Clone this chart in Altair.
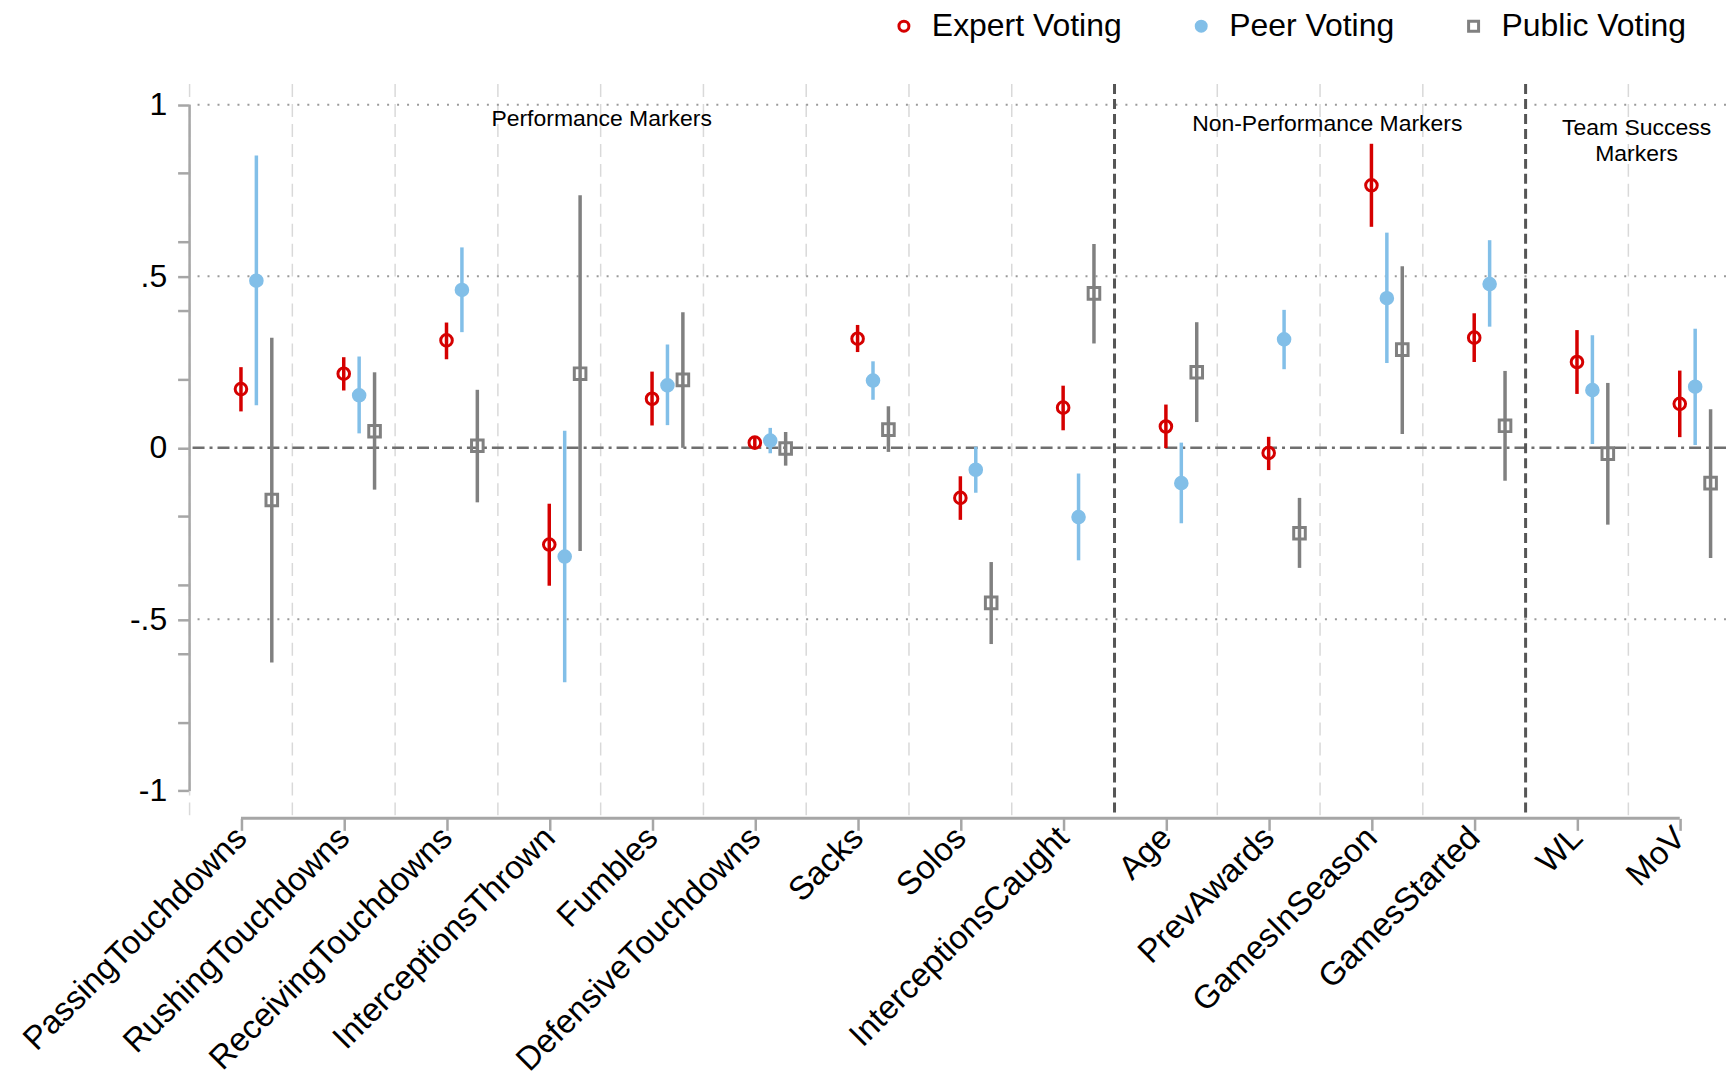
import json
import altair as alt
import pandas as pd

# ---------------- data ----------------
CATEGORIES = [
    "PassingTouchdowns", "RushingTouchdowns", "ReceivingTouchdowns",
    "InterceptionsThrown", "Fumbles", "DefensiveTouchdowns", "Sacks", "Solos",
    "InterceptionsCaught", "Age", "PrevAwards", "GamesInSeason",
    "GamesStarted", "WL", "MoV",
]
SERIES = ["Expert Voting", "Peer Voting", "Public Voting"]

EXPERT_EST = [0.171, 0.216, 0.313, -0.282, 0.143, 0.015, 0.318, -0.146, 0.117, 0.062, -0.015, 0.765, 0.321, 0.250, 0.128]
EXPERT_LO = [0.106, 0.167, 0.258, -0.402, 0.065, 0.000, 0.279, -0.210, 0.051, -0.001, -0.065, 0.644, 0.250, 0.157, 0.031]
EXPERT_HI = [0.235, 0.264, 0.365, -0.163, 0.222, 0.030, 0.358, -0.083, 0.181, 0.126, 0.032, 0.886, 0.392, 0.343, 0.225]

PEER_EST = [0.487, 0.153, 0.460, -0.317, 0.182, 0.021, 0.196, -0.064, -0.202, -0.103, 0.316, 0.436, 0.477, 0.168, 0.178]
PEER_LO = [0.124, 0.042, 0.337, -0.683, 0.066, -0.016, 0.140, -0.131, -0.328, -0.220, 0.229, 0.247, 0.353, 0.011, 0.008]
PEER_HI = [0.852, 0.266, 0.584, 0.050, 0.301, 0.058, 0.252, 0.003, -0.075, 0.015, 0.402, 0.627, 0.605, 0.328, 0.347]

PUBLIC_EST = [-0.152, 0.048, 0.006, 0.216, 0.198, -0.002, 0.053, -0.452, 0.450, 0.220, -0.249, 0.286, 0.064, -0.017, -0.103]
PUBLIC_LO = [-0.626, -0.122, -0.159, -0.301, 0.000, -0.052, -0.012, -0.572, 0.304, 0.075, -0.350, 0.040, -0.096, -0.224, -0.321]
PUBLIC_HI = [0.321, 0.220, 0.169, 0.736, 0.395, 0.046, 0.121, -0.333, 0.594, 0.366, -0.146, 0.529, 0.224, 0.189, 0.112]

GROUP_LABELS = ["Performance Markers", "Non-Performance Markers", "Team Success", "Markers"]
GROUP_LABEL_X = [3.51, 10.57, 13.58, 13.58]
GROUP_LABEL_Y = [0.958, 0.945, 0.933, 0.855]
GROUP_BREAKS = [8.5, 12.5]

Y_TICKS = [1, 0.8, 0.6, 0.5, 0.4, 0.2, 0, -0.2, -0.4, -0.5, -0.6, -0.8, -1]
Y_LABEL_VALUES = [1, 0.5, 0, -0.5, -1]
Y_LABEL_TEXT = ["1", ".5", "0", "-.5", "-1"]
Y_GRID = [1, 0.5, -0.5]

# ---------------- styles ----------------
FONT = "Liberation Sans"
COLORS = ["#d50000", "#82bfe8", "#808080"]
FILLS = ["transparent", "#82bfe8", "transparent"]
SHAPES = ["circle", "circle", "square"]
OFFSETS = [0.0, 0.15, 0.30]
AXIS_GRAY = "#a6a6a6"

rows = []
for s, est, lo, hi, off, col in zip(
    SERIES,
    [EXPERT_EST, PEER_EST, PUBLIC_EST],
    [EXPERT_LO, PEER_LO, PUBLIC_LO],
    [EXPERT_HI, PEER_HI, PUBLIC_HI],
    OFFSETS,
    COLORS,
):
    for i, c in enumerate(CATEGORIES):
        rows.append(dict(category=c, series=s, xpos=i + off, est=est[i], lo=lo[i], hi=hi[i], col=col))
df = pd.DataFrame(rows)

n = len(CATEGORIES)
X_DOMAIN = [-0.5, n - 0.55]
Y_DOMAIN = [-1.08, 1.06]
XS = alt.Scale(domain=X_DOMAIN, nice=False, zero=False)
YS = alt.Scale(domain=Y_DOMAIN, nice=False, zero=False)

x_label_expr = json.dumps(CATEGORIES) + "[round(datum.value)]"
y_label_expr = (
    "indexof(" + json.dumps(Y_LABEL_VALUES) + ", datum.value) >= 0 ? "
    + json.dumps(Y_LABEL_TEXT) + "[indexof(" + json.dumps(Y_LABEL_VALUES) + ", datum.value)] : ''"
)

XA = alt.Axis(
    values=list(range(n)), labelExpr=x_label_expr, domain=False, grid=False,
    ticks=True, tickSize=12, tickWidth=2.5, tickColor=AXIS_GRAY,
    labelAngle=-45, labelAlign="right", labelBaseline="middle",
    labelFontSize=33, labelFont=FONT, labelColor="black", labelPadding=2,
    labelOverlap=False, labelFlush=False, labelLimit=0, title=None,
)
YA = alt.Axis(
    values=Y_TICKS, labelExpr=y_label_expr, domain=False, grid=False,
    ticks=True, tickSize=12, tickWidth=2.5, tickColor=AXIS_GRAY,
    labelFontSize=32, labelFont=FONT, labelColor="black", labelPadding=11,
    labelOverlap=False, labelFlush=False, labelLimit=0, title=None,
)


def X(f):
    return alt.X(f, type="quantitative", scale=XS, axis=XA, title=None)


def Y(f):
    return alt.Y(f, type="quantitative", scale=YS, axis=YA, title=None)


grid_x = [i - 0.5 for i in range(n) if (i - 0.5) not in GROUP_BREAKS]
vgrid = alt.Chart(pd.DataFrame({"v": grid_x})).mark_rule(
    color="#d9d9d9", strokeWidth=1.5, strokeDash=[13, 7]
).encode(x=X("v"))

hgrid = alt.Chart(pd.DataFrame({"v": Y_GRID})).mark_rule(
    color="#9a9a9a", strokeWidth=2, strokeDash=[2, 8]
).encode(y=Y("v"))

zero = alt.Chart(pd.DataFrame({"v": [0]})).mark_rule(
    color="#6f6f6f", strokeWidth=2.5, strokeDash=[12, 5, 3, 5]
).encode(y=Y("v"))

seps = alt.Chart(pd.DataFrame({"v": GROUP_BREAKS})).mark_rule(
    color="#555555", strokeWidth=3, strokeDash=[10, 5]
).encode(x=X("v"))

yaxis_line = alt.Chart(pd.DataFrame({"x": [X_DOMAIN[0]], "y": [Y_LABEL_VALUES[-1]], "y2": [Y_LABEL_VALUES[0]]})).mark_rule(
    color=AXIS_GRAY, strokeWidth=2.5
).encode(x=X("x"), y=Y("y"), y2="y2:Q")

xaxis_line = alt.Chart(pd.DataFrame({"x": [0], "x2": [n - 1], "y": [Y_DOMAIN[0]]})).mark_rule(
    color=AXIS_GRAY, strokeWidth=3
).encode(x=X("x"), x2="x2:Q", y=Y("y"))

ci = alt.Chart(df).mark_rule(strokeWidth=3.5).encode(
    x=X("xpos"), y=Y("lo"), y2="hi:Q", stroke=alt.Stroke("col:N", scale=None)
)

LEG = alt.Legend(
    orient="none", legendX=700, legendY=-74, direction="horizontal", title=None,
    labelFontSize=32, labelFont=FONT, labelColor="black", labelLimit=0,
    symbolSize=100, symbolStrokeWidth=3, labelOffset=12, columnPadding=63,
)

pts = alt.Chart(df).mark_point(size=135, strokeWidth=3, opacity=1, filled=False).encode(
    x=X("xpos"),
    y=Y("est"),
    stroke=alt.Stroke("series:N", scale=alt.Scale(domain=SERIES, range=COLORS), legend=LEG, sort=SERIES),
    fill=alt.Fill("series:N", scale=alt.Scale(domain=SERIES, range=FILLS), legend=LEG, sort=SERIES),
    shape=alt.Shape("series:N", scale=alt.Scale(domain=SERIES, range=SHAPES), legend=LEG, sort=SERIES),
)

labels = alt.Chart(pd.DataFrame({"label": GROUP_LABELS, "x": GROUP_LABEL_X, "y": GROUP_LABEL_Y})).mark_text(
    font=FONT, fontSize=23, color="black", align="center", baseline="middle"
).encode(x=X("x"), y=Y("y"), text="label:N")

chart = alt.layer(vgrid, hgrid, zero, seps, yaxis_line, xaxis_line, ci, pts, labels).properties(
    width=1540, height=736,
    autosize=alt.AutoSizeParams(type="none"),
    padding={"left": 182, "top": 75, "right": 0, "bottom": 262},
    background="white",
).configure_view(stroke=None)

chart.save("out.html", embed_options={"renderer": "svg", "actions": False})
